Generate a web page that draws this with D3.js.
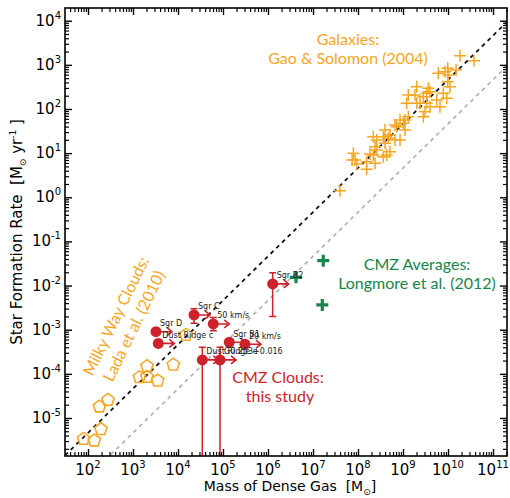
<!DOCTYPE html>
<html>
<head>
<meta charset="utf-8">
<script src="https://cdn.jsdelivr.net/npm/d3@7"></script>
<style>
  body { margin: 0; background: #fff; }
  text { font-family: 'DejaVu Sans', sans-serif; }
  .note { font-family: Lato, 'Open Sans', sans-serif; font-size: 16px; }
</style>
</head>
<body>
<div id="chart"></div>
<script>
// Milky Way clouds, Lada et al. (2010)
const mwMass = [80, 138, 194, 180, 278, 1390, 2050, 2050, 3540, 7870, 15000]
const mwSfr = [3.35e-6, 3.07e-6, 5.56e-6, 1.81e-5, 2.56e-5, 8.4e-5, 1.49e-4, 8.5e-5, 7.0e-5, 1.61e-4, 7.6e-4]

// Galaxies, Gao & Solomon (2004)
const galMass = [3.98e7, 7.9e7, 8.6e7, 9.5e7, 7.4e7, 1.56e8, 1.56e8, 2.39e8, 2.19e8, 1.85e8,
    2.61e8, 2.39e8, 2.61e8, 2.19e8, 3.65e8, 3.98e8, 3.98e8, 4.71e8, 5.14e8, 3.65e8,
    4.34e8, 5.14e8, 6.64e8, 7.24e8, 6.64e8, 8.58e8, 1.02e9, 1.11e9, 8.58e8, 1.31e9,
    1.11e9, 1.21e9, 1.31e9, 2.02e9, 1.85e9, 2.02e9, 2.39e9, 2.83e9, 3.36e9, 3.65e9,
    3.98e9, 3.36e9, 3.98e9, 3.08e9, 2.83e9, 5.61e9, 6.64e9, 6.08e9, 9.85e9, 8.58e9,
    1.51e10, 1.02e10, 9.85e9, 1.11e10, 9.36e9, 7.87e9, 1.85e10, 3.78e10]
const galSfr = [1.41, 9.9, 7.0, 5.7, 7.0, 4.3, 6.4, 5.9, 9.1, 9.6,
    11.8, 14, 19.9, 23.6, 23.6, 33.4, 16.7, 21.7, 25.8, 8.3,
    9.1, 10.8, 19.9, 39.7, 43.4, 56.4, 47.4, 33.4, 19.9, 67,
    56.4, 135, 207, 320, 207, 135, 135, 190, 227, 294,
    247, 135, 113, 87, 67, 160, 113, 644, 836, 700,
    764, 589, 415, 320, 175, 227, 1610, 1240]

// CMZ averages, Longmore et al. (2012)
const avgMass = [4.19e6, 1.69e7, 1.61e7]
const avgSfr = [0.0154, 0.0366, 0.00364]

// CMZ clouds, this study (mass values are lower limits)
const cloudNames = ['Sgr B2', 'Sgr C', '50 km/s', 'Sgr D', 'Dust Ridge c', 'Sgr B1', '20 km/s', 'Dust Ridge e', 'G0.253+0.016']
const cloudMass = [1.27e6, 22700, 60800, 3240, 3650, 1.38e5, 3.08e5, 34700, 85800]
const cloudSfr = [0.0109, 0.00216, 0.00135, 9.0e-4, 4.9e-4, 5.2e-4, 4.7e-4, 2.07e-4, 2.07e-4]
const cloudSfrLo = [0.00198, 0.0014, 0.00095, null, null, null, null, 1e-8, 1e-8]
const cloudSfrHi = [0.0196, 0.0030, 0.0019, null, null, null, null, 4.0e-4, 4.0e-4]

// SFR = coef * M  (Lada relation and ten times lower)
const relCoef = [4.6e-8, 4.6e-9]

const xTickExp = [2, 3, 4, 5, 6, 7, 8, 9, 10, 11]
const yTickExp = [-5, -4, -3, -2, -1, 0, 1, 2, 3, 4]

const orange = '#f6a623'
const red = '#cd2229'
const green = '#17864a'

const W = 510, H = 498
const margin = { top: 8, right: 3, bottom: 42, left: 65 }
const iw = W - margin.left - margin.right
const ih = H - margin.top - margin.bottom

const x = d3.scaleLog().domain([10 ** 1.489, 10 ** 11.311]).range([0, iw])
const y = d3.scaleLog().domain([10 ** -5.861, 10 ** 4.288]).range([ih, 0])

const svg = d3.select('#chart').append('svg').attr('width', W).attr('height', H)
const g = svg.append('g').attr('transform', `translate(${margin.left},${margin.top})`)

g.append('clipPath').attr('id', 'plot').append('rect').attr('width', iw).attr('height', ih)
const plot = g.append('g').attr('clip-path', 'url(#plot)')

// relations
const [xd0, xd1] = x.domain()
plot.selectAll().data(relCoef).enter().append('path')
    .attr('d', c => d3.line()([[x(xd0), y(c * xd0)], [x(xd1), y(c * xd1)]]))
    .attr('stroke', (c, i) => i === 0 ? '#111' : '#b5b5b5')
    .attr('stroke-width', 1.8)
    .attr('stroke-dasharray', '4,4')
    .attr('fill', 'none')

// Milky Way pentagons
const pent = d3.range(5).map(i => {
    const a = -Math.PI / 2 + i * 2 * Math.PI / 5
    return [6.5 * Math.cos(a), 6.5 * Math.sin(a)]
})
plot.selectAll().data(mwMass).enter().append('path')
    .attr('d', d3.line().curve(d3.curveLinearClosed)(pent))
    .attr('transform', (d, i) => `translate(${x(d)},${y(mwSfr[i])})`)
    .attr('fill', 'none').attr('stroke', orange).attr('stroke-width', 1.6)

// galaxy crosses
plot.selectAll().data(galMass).enter().append('path')
    .attr('d', 'M-6,0H6M0,-6V6')
    .attr('transform', (d, i) => `translate(${x(d)},${y(galSfr[i])})`)
    .attr('stroke', orange).attr('stroke-width', 1.5)

// CMZ averages
plot.selectAll().data(avgMass).enter().append('path')
    .attr('d', 'M-6,0H6M0,-6V6')
    .attr('transform', (d, i) => `translate(${x(d)},${y(avgSfr[i])})`)
    .attr('stroke', green).attr('stroke-width', 3.2)

// CMZ clouds: error bars, arrows, dots
const clouds = cloudNames.map((name, i) => ({
    name, m: cloudMass[i], s: cloudSfr[i], lo: cloudSfrLo[i], hi: cloudSfrHi[i]
}))
const bars = clouds.filter(d => d.lo !== null)
plot.selectAll().data(bars).enter().append('path')
    .attr('d', d => {
        const cx = x(d.m), y0 = y(d.lo), y1 = y(d.hi)
        return `M${cx},${y0}V${y1}M${cx - 3.5},${y0}H${cx + 3.5}M${cx - 3.5},${y1}H${cx + 3.5}`
    })
    .attr('stroke', red).attr('stroke-width', 1.5).attr('fill', 'none')

plot.selectAll().data(clouds).enter().append('path')
    .attr('d', d => {
        const cx = x(d.m), cy = y(d.s), tip = cx + 16
        return `M${cx},${cy}H${tip}M${tip - 5},${cy - 4}L${tip},${cy}L${tip - 5},${cy + 4}`
    })
    .attr('stroke', red).attr('stroke-width', 1.6).attr('fill', 'none')

plot.selectAll().data(clouds).enter().append('circle')
    .attr('cx', d => x(d.m)).attr('cy', d => y(d.s)).attr('r', 5.5)
    .attr('fill', red)

g.selectAll().data(clouds).enter().append('text')
    .text(d => d.name)
    .attr('x', d => x(d.m) + 4).attr('y', d => y(d.s) - 5.5)
    .attr('font-size', 8).attr('fill', '#222')

// frame and ticks
const sides = [
    [d3.axisBottom, x, `translate(0,${ih})`, xTickExp],
    [d3.axisTop, x, 'translate(0,0)', xTickExp],
    [d3.axisLeft, y, 'translate(0,0)', yTickExp],
    [d3.axisRight, y, `translate(${iw},0)`, yTickExp]
]
function minorTicks (scale) {
    const [a, b] = scale.domain()
    const out = []
    for (let e = Math.floor(Math.log10(a)); e <= Math.ceil(Math.log10(b)); e++) {
        for (let k = 2; k < 10; k++) {
            const v = k * 10 ** e
            if (v >= a && v <= b) out.push(v)
        }
    }
    return out
}
sides.forEach(([axis, s, tr, exps]) => {
    g.append('g').attr('transform', tr)
        .call(axis(s).tickValues(exps.map(e => 10 ** e)).tickSize(-7).tickSizeOuter(0).tickFormat(''))
        .selectAll('line').attr('stroke-width', 1.4)
    g.append('g').attr('transform', tr)
        .call(axis(s).tickValues(minorTicks(s)).tickSize(-4).tickSizeOuter(0).tickFormat(''))
        .selectAll('line').attr('stroke-width', 1.2)
})
g.selectAll('.domain').remove()
g.append('rect').attr('width', iw).attr('height', ih)
    .attr('fill', 'none').attr('stroke', '#000').attr('stroke-width', 1.6)

// tick labels
const xl = g.selectAll().data(xTickExp).enter().append('text')
    .attr('x', e => x(10 ** e)).attr('y', ih + 19)
    .attr('text-anchor', 'middle').attr('font-size', 15)
xl.append('tspan').text('10')
xl.append('tspan').attr('dy', -7).attr('font-size', 10).text(e => e)

const yl = g.selectAll().data(yTickExp).enter().append('text')
    .attr('x', -4).attr('y', e => y(10 ** e) + 5)
    .attr('text-anchor', 'end').attr('font-size', 15)
yl.append('tspan').text('10')
yl.append('tspan').attr('dy', -7).attr('font-size', 10).text(e => e)

// axis titles
const xt = svg.append('text').attr('x', 290).attr('y', 491)
    .attr('text-anchor', 'middle').attr('font-size', 14)
xt.append('tspan').text('Mass of Dense Gas\u00a0\u00a0[M')
xt.append('tspan').attr('dy', 4).attr('font-size', 9).text('\u2299')
xt.append('tspan').attr('dy', -4).text(']')

const yt = svg.append('text').attr('transform', 'translate(22,232) rotate(-90)')
    .attr('text-anchor', 'middle').attr('font-size', 15)
yt.append('tspan').text('Star Formation Rate\u00a0\u00a0[M')
yt.append('tspan').attr('dy', 4).attr('font-size', 9).text('\u2299')
yt.append('tspan').attr('dy', -4).text('\u00a0yr')
yt.append('tspan').attr('dy', -6).attr('font-size', 9).text('-1')
yt.append('tspan').attr('dy', 6).text('\u00a0]')

// annotations
svg.append('text').attr('class', 'note').attr('fill', orange).attr('text-anchor', 'middle')
    .attr('x', 348).attr('y', 45).text('Galaxies:')
svg.append('text').attr('class', 'note').attr('fill', orange).attr('text-anchor', 'middle')
    .attr('x', 348).attr('y', 64).text('Gao & Solomon (2004)')
svg.append('text').attr('class', 'note').attr('fill', green).attr('text-anchor', 'middle')
    .attr('x', 417).attr('y', 270).text('CMZ Averages:')
svg.append('text').attr('class', 'note').attr('fill', green).attr('text-anchor', 'middle')
    .attr('x', 417).attr('y', 289).text('Longmore et al. (2012)')
svg.append('text').attr('class', 'note').attr('fill', red).attr('text-anchor', 'middle')
    .attr('x', 278).attr('y', 383).text('CMZ Clouds:')
svg.append('text').attr('class', 'note').attr('fill', red).attr('text-anchor', 'middle')
    .attr('x', 280).attr('y', 402).text('this study')
svg.append('text').attr('class', 'note').attr('fill', orange).attr('text-anchor', 'middle')
    .attr('dy', '0.35em').attr('transform', 'translate(116,316) rotate(-64)').text('Milky Way Clouds:')
svg.append('text').attr('class', 'note').attr('fill', orange).attr('text-anchor', 'middle')
    .attr('dy', '0.35em').attr('transform', 'translate(134,326) rotate(-64)').text('Lada et al. (2010)')
</script>
</body>
</html>
